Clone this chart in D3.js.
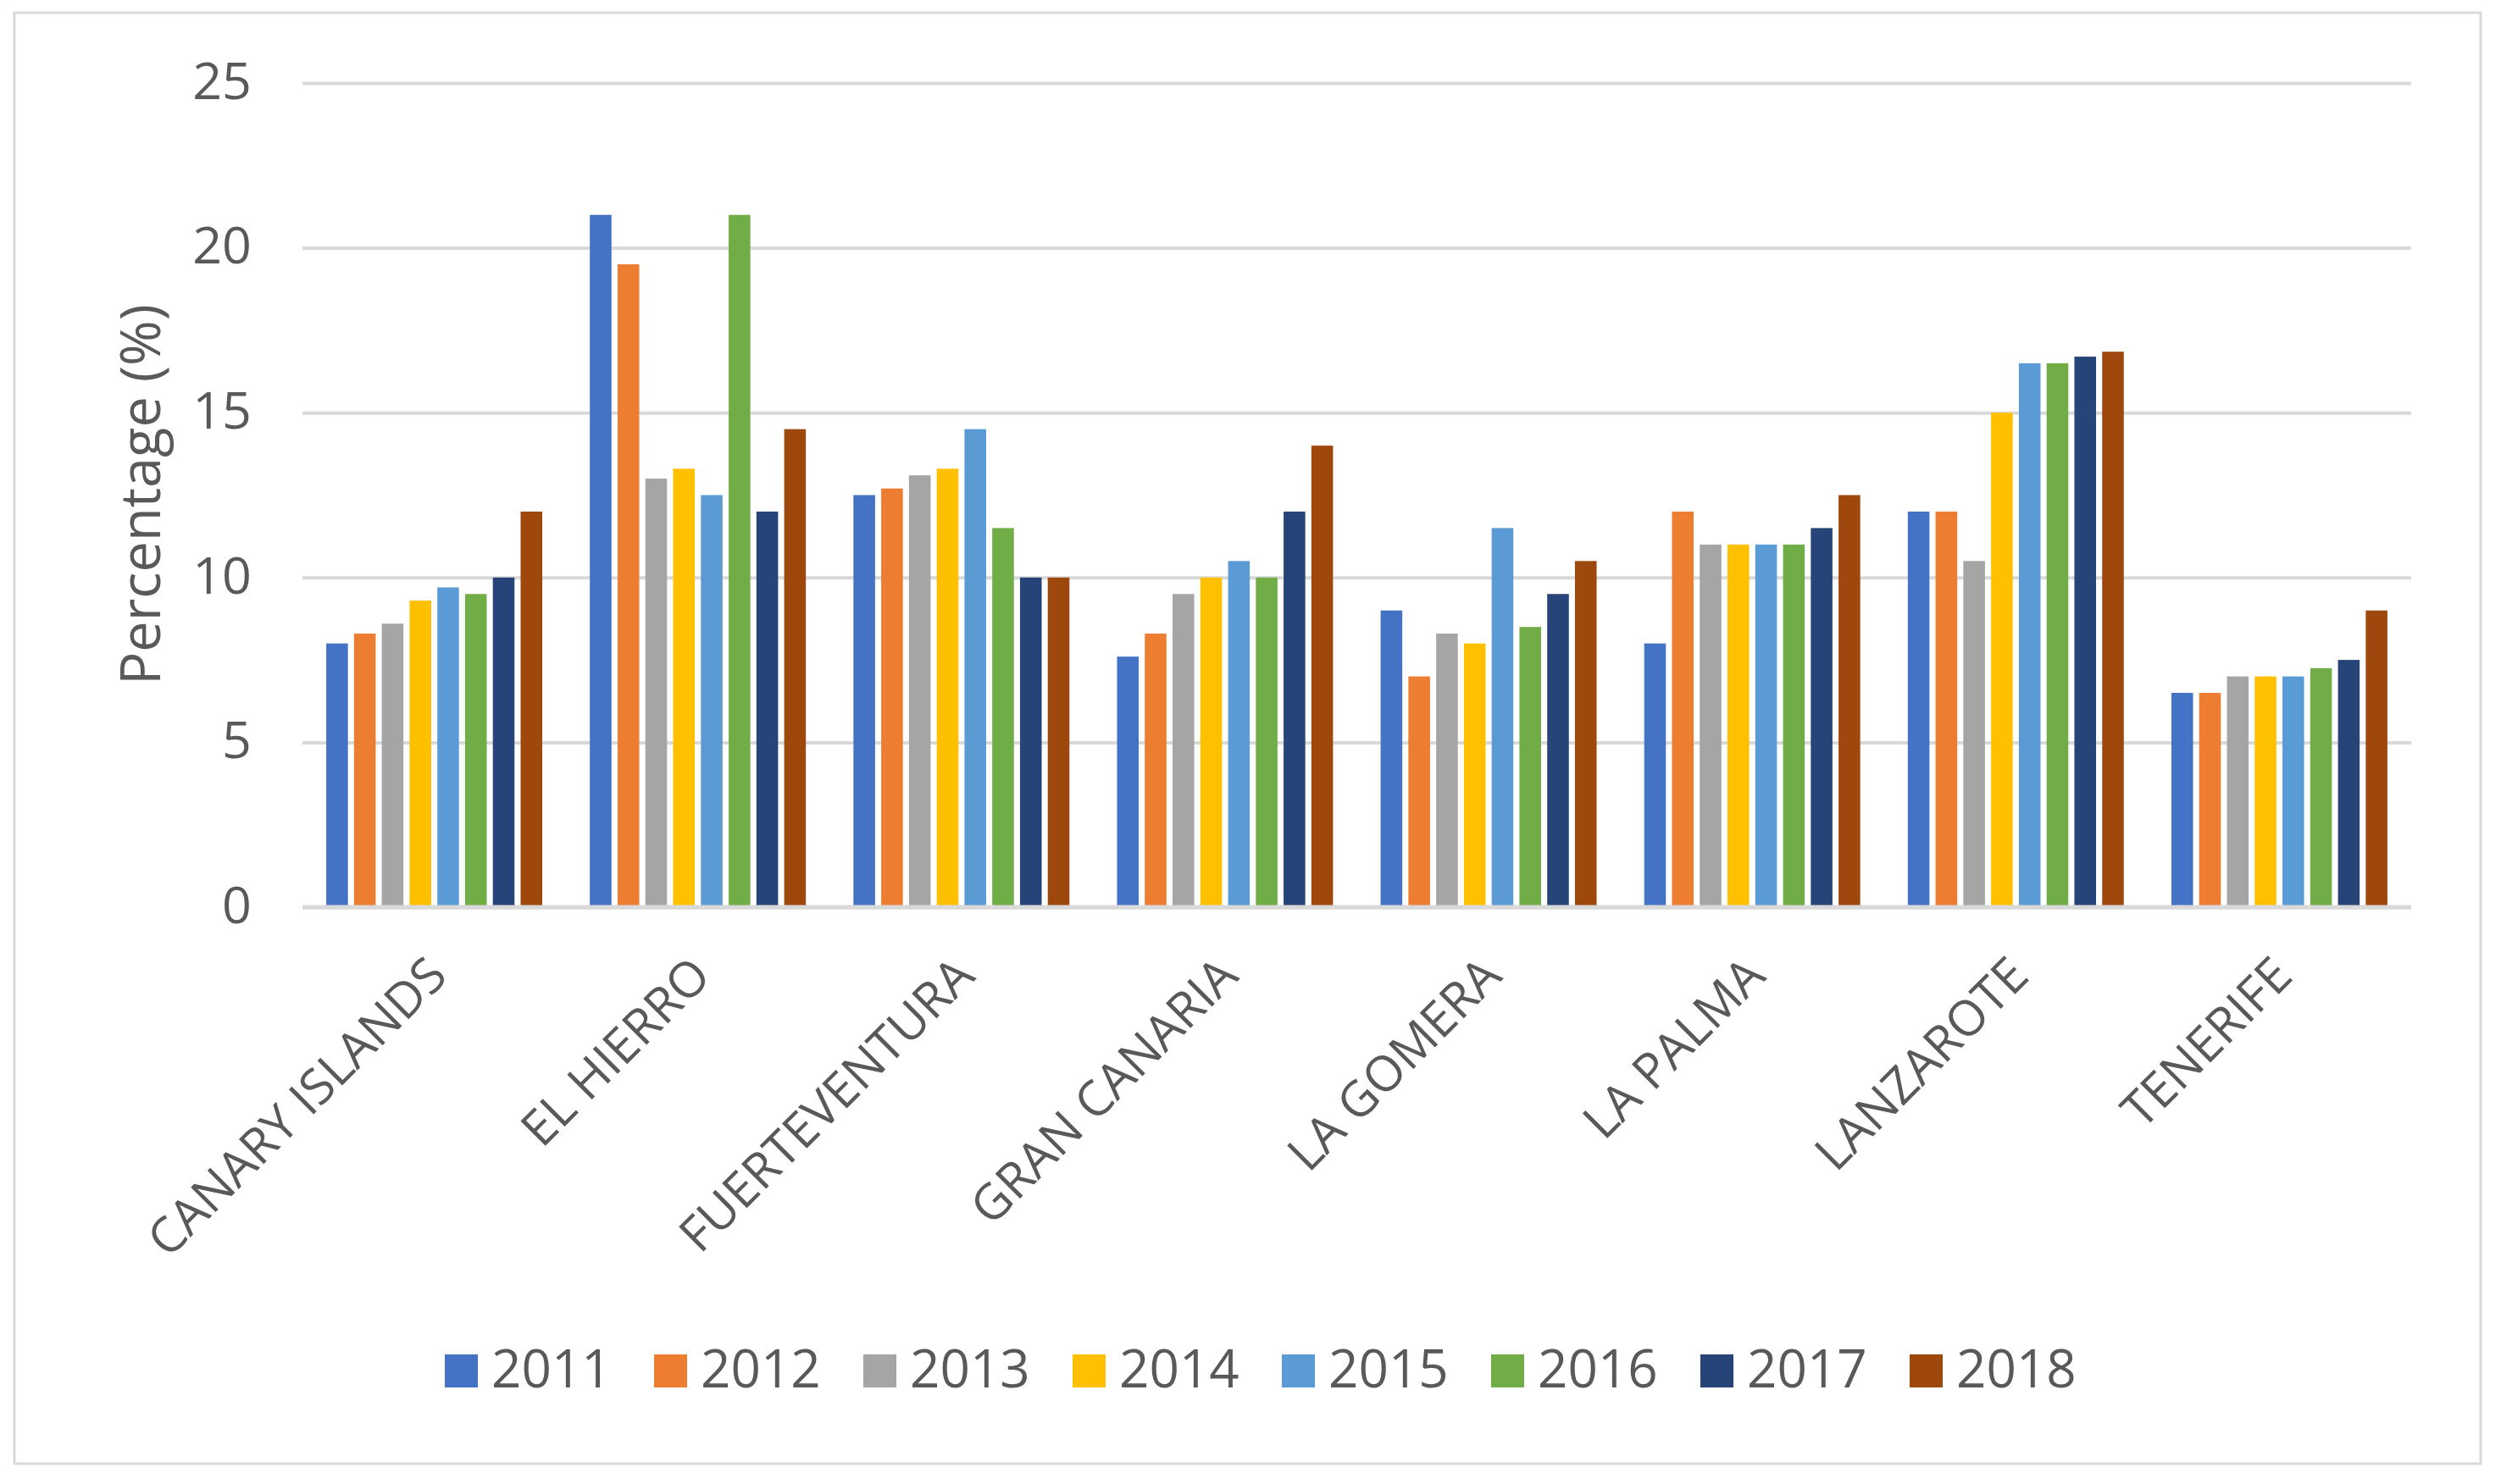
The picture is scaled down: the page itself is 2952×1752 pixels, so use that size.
<!DOCTYPE html>
<html>
<head>
<meta charset="utf-8">
<script src="https://cdn.jsdelivr.net/npm/d3@7/dist/d3.min.js"></script>
<style>
  html, body { margin: 0; padding: 0; background: #ffffff; }
  svg { display: block; }
</style>
</head>
<body>
<script>
// ---- Data ----
const categories = ["CANARY ISLANDS", "EL HIERRO", "FUERTEVENTURA", "GRAN CANARIA", "LA GOMERA", "LA PALMA", "LANZAROTE", "TENERIFE"];
const years = ["2011", "2012", "2013", "2014", "2015", "2016", "2017", "2018"];
const v2011 = [8.0, 21.0, 12.5, 7.6, 9.0, 8.0, 12.0, 6.5];
const v2012 = [8.3, 19.5, 12.7, 8.3, 7.0, 12.0, 12.0, 6.5];
const v2013 = [8.6, 13.0, 13.1, 9.5, 8.3, 11.0, 10.5, 7.0];
const v2014 = [9.3, 13.3, 13.3, 10.0, 8.0, 11.0, 15.0, 7.0];
const v2015 = [9.7, 12.5, 14.5, 10.5, 11.5, 11.0, 16.5, 7.0];
const v2016 = [9.5, 21.0, 11.5, 10.0, 8.5, 11.0, 16.5, 7.25];
const v2017 = [10.0, 12.0, 10.0, 12.0, 9.5, 11.5, 16.7, 7.5];
const v2018 = [12.0, 14.5, 10.0, 14.0, 10.5, 12.5, 16.85, 9.0];
const yTicks = [0, 5, 10, 15, 20, 25];
const yTitle = "Percentage (%)";
const colors = ["#4472C4", "#ED7D31", "#A5A5A5", "#FFC000", "#5B9BD5", "#70AD47", "#264478", "#9E480E"];

const seriesValues = [v2011, v2012, v2013, v2014, v2015, v2016, v2017, v2018];
const table = categories.map((c, i) => ({
  category: c,
  values: years.map((y, j) => ({ year: y, value: seriesValues[j][i] }))
}));

// ---- Layout ----
const W = 2952, H = 1752;
const plot = { left: 357, right: 2846, top: 98, bottom: 1071 };
const font = "'Open Sans', 'Noto Sans', sans-serif";
const textColor = "#595959";
const gridColor = "#d9d9d9";

const svg = d3.select("body").append("svg")
  .attr("width", W).attr("height", H)
  .attr("viewBox", `0 0 ${W} ${H}`);

svg.append("rect").attr("width", W).attr("height", H).attr("fill", "#ffffff");

// chart border
svg.append("rect")
  .attr("x", 17).attr("y", 15)
  .attr("width", 2928 - 17).attr("height", 1728 - 15)
  .attr("fill", "none").attr("stroke", gridColor).attr("stroke-width", 3);

// ---- Scales ----
const x0 = d3.scaleBand().domain(categories)
  .range([plot.left, plot.right])
  .paddingInner(0.17).paddingOuter(0.085);
const x1 = d3.scaleBand().domain(years)
  .range([0, x0.bandwidth()])
  .paddingInner(0.22).paddingOuter(0.05);
const y = d3.scaleLinear().domain([0, 25]).range([plot.bottom, plot.top]);
const color = d3.scaleOrdinal().domain(years).range(colors);

// ---- Y axis with gridlines ----
const yAxis = d3.axisLeft(y).tickValues(yTicks)
  .tickSize(-(plot.right - plot.left)).tickPadding(60).tickFormat(d3.format("d"));
const gy = svg.append("g").attr("transform", `translate(${plot.left},0)`).call(yAxis);
gy.select(".domain").remove();
gy.selectAll(".tick line").attr("stroke", gridColor).attr("stroke-width", 4);
gy.selectAll(".tick text")
  .attr("font-family", font).attr("font-size", 61).attr("fill", textColor)
  .attr("dy", "0.3em");

// ---- Bars ----
const groups = svg.append("g").selectAll("g").data(table).join("g")
  .attr("transform", d => `translate(${x0(d.category)},0)`);
groups.selectAll("rect").data(d => d.values).join("rect")
  .attr("x", d => x1(d.year))
  .attr("width", x1.bandwidth())
  .attr("y", d => y(d.value))
  .attr("height", d => y(0) - y(d.value))
  .attr("fill", d => color(d.year));

// baseline
svg.append("line")
  .attr("x1", plot.left).attr("x2", plot.right)
  .attr("y1", y(0)).attr("y2", y(0))
  .attr("stroke", gridColor).attr("stroke-width", 5);

// ---- X axis labels ----
const xAxis = d3.axisBottom(x0).tickSize(0).tickPadding(0);
const gx = svg.append("g").attr("transform", `translate(0,${plot.bottom})`).call(xAxis);
gx.select(".domain").remove();
gx.selectAll(".tick text")
  .attr("font-family", font).attr("font-size", 58).attr("fill", textColor)
  .attr("text-anchor", "end")
  .attr("dy", null).attr("y", null)
  .attr("transform", "translate(18,84) rotate(-45)");

// ---- Y title ----
svg.append("text")
  .attr("transform", `translate(166,584) rotate(-90)`)
  .attr("text-anchor", "middle")
  .attr("dy", "0.35em")
  .attr("font-family", font).attr("font-size", 65).attr("fill", textColor)
  .text(yTitle);

// ---- Legend ----
const legendX = d3.scalePoint().domain(years).range([525, 525 + 247 * 7]);
const lg = svg.append("g").selectAll("g").data(years).join("g")
  .attr("transform", d => `translate(${legendX(d)},1599)`);
lg.append("rect").attr("width", 39).attr("height", 39).attr("fill", d => color(d));
lg.append("text")
  .attr("x", 55).attr("y", 39)
  .attr("font-family", font).attr("font-size", 62).attr("fill", textColor)
  .text(d => d);
</script>
</body>
</html>
